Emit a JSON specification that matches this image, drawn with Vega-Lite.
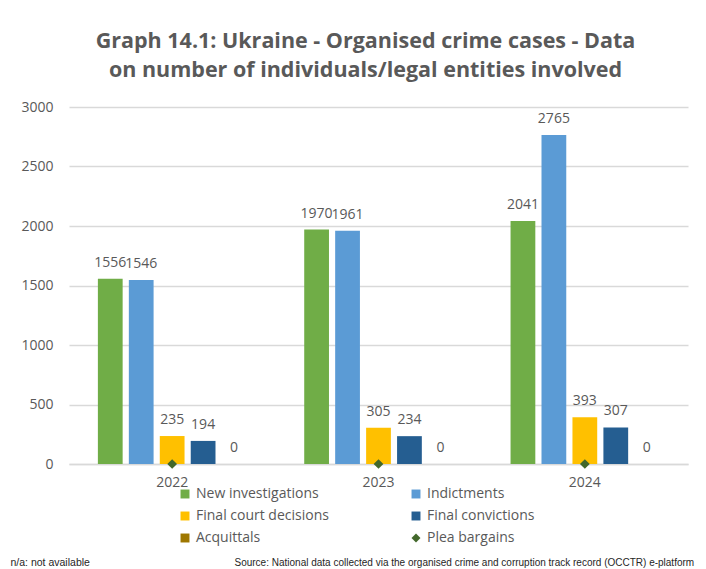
{
  "$schema": "https://vega.github.io/schema/vega-lite/v6.json",
  "width": 619,
  "height": 357,
  "autosize": {"type": "none"},
  "padding": {"left": 69, "top": 107, "right": 18, "bottom": 105},
  "background": "white",
  "config": {"view": {"stroke": null}},
  "title": {
    "text": ["Graph 14.1: Ukraine - Organised crime cases - Data", "on number of individuals/legal entities involved"],
    "anchor": "middle",
    "frame": "group",
    "dx": -13,
    "offset": 19,
    "font": "Open Sans",
    "fontSize": 21.5,
    "fontWeight": "bold",
    "color": "#595959",
    "lineHeight": 29
  },
  "data": {
    "values": [
      {"year": "2022", "series": "New investigations", "value": 1556},
      {"year": "2022", "series": "Indictments", "value": 1546},
      {"year": "2022", "series": "Final court decisions", "value": 235},
      {"year": "2022", "series": "Final convictions", "value": 194},
      {"year": "2022", "series": "Acquittals", "value": 0},
      {"year": "2022", "series": "Plea bargains", "value": 0},
      {"year": "2023", "series": "New investigations", "value": 1970},
      {"year": "2023", "series": "Indictments", "value": 1961},
      {"year": "2023", "series": "Final court decisions", "value": 305},
      {"year": "2023", "series": "Final convictions", "value": 234},
      {"year": "2023", "series": "Acquittals", "value": 0},
      {"year": "2023", "series": "Plea bargains", "value": 0},
      {"year": "2024", "series": "New investigations", "value": 2041},
      {"year": "2024", "series": "Indictments", "value": 2765},
      {"year": "2024", "series": "Final court decisions", "value": 393},
      {"year": "2024", "series": "Final convictions", "value": 307},
      {"year": "2024", "series": "Acquittals", "value": 0},
      {"year": "2024", "series": "Plea bargains", "value": 0}
    ]
  },
  "encoding": {
    "x": {
      "field": "year",
      "type": "nominal",
      "scale": {"paddingInner": 0.25, "paddingOuter": 0.125},
      "axis": {
        "labelAngle": 0,
        "labelFont": "Open Sans",
        "labelFontSize": 14,
        "labelColor": "#595959",
        "labelPadding": 11,
        "ticks": false,
        "domainColor": "#d9d9d9",
        "domainWidth": 1.5,
        "title": "Source: National data collected via the organised crime and corruption track record (OCCTR) e-platform",
        "titleFont": "Liberation Sans",
        "titleFontSize": 10,
        "titleFontWeight": "normal",
        "titleColor": "#262626",
        "titleAnchor": "start",
        "titleAlign": "left",
        "titleBaseline": "alphabetic",
        "titleX": 165,
        "titleY": 101
      }
    },
    "y": {
      "field": "value",
      "type": "quantitative",
      "scale": {"domain": [0, 3000]},
      "axis": {
        "values": [0, 500, 1000, 1500, 2000, 2500, 3000],
        "format": "d",
        "labelFont": "Open Sans",
        "labelFontSize": 14,
        "labelColor": "#595959",
        "labelPadding": 16,
        "ticks": false,
        "domain": false,
        "gridColor": "#d9d9d9",
        "gridWidth": 1.5,
        "title": "n/a: not available",
        "titleAngle": 0,
        "titleFont": "Liberation Sans",
        "titleFontSize": 10.5,
        "titleFontWeight": "normal",
        "titleColor": "#262626",
        "titleAlign": "left",
        "titleBaseline": "alphabetic",
        "titleX": -59,
        "titleY": 458
      }
    }
  },
  "layer": [
    {
      "transform": [{"filter": "datum.series !== 'Plea bargains'"}],
      "mark": {"type": "bar"},
      "encoding": {
        "xOffset": {
          "field": "series",
          "type": "nominal",
          "sort": ["New investigations", "Indictments", "Final court decisions", "Final convictions", "Acquittals"],
          "scale": {"paddingInner": 0.2, "paddingOuter": 0.1}
        },
        "color": {
          "field": "series",
          "type": "nominal",
          "scale": {
            "domain": ["New investigations", "Indictments", "Final court decisions", "Final convictions", "Acquittals", "Plea bargains"],
            "range": ["#70AD47", "#5B9BD5", "#FFC000", "#255E91", "#9E7700", "#43682B"]
          },
          "legend": {
            "orient": "none",
            "legendX": 109,
            "legendY": 380,
            "direction": "horizontal",
            "columns": 2,
            "title": null,
            "labelFont": "Open Sans",
            "labelFontSize": 14,
            "labelColor": "#595959",
            "labelOffset": 4,
            "symbolSize": 80,
            "symbolStrokeWidth": 0,
            "rowPadding": 8,
            "columnPadding": 80,
            "encode": {
              "symbols": {
                "update": {
                  "shape": {"signal": "datum.value === 'Plea bargains' ? 'diamond' : 'square'"}
                }
              }
            }
          }
        }
      }
    },
    {
      "transform": [{"filter": "datum.series !== 'Plea bargains'"}],
      "mark": {"type": "text", "dy": -16, "font": "Open Sans", "fontSize": 14, "color": "#595959", "baseline": "middle"},
      "encoding": {
        "xOffset": {
          "field": "series",
          "type": "nominal",
          "sort": ["New investigations", "Indictments", "Final court decisions", "Final convictions", "Acquittals"],
          "scale": {"paddingInner": 0.2, "paddingOuter": 0.1}
        },
        "text": {"field": "value", "type": "quantitative"}
      }
    },
    {
      "transform": [{"filter": "datum.series === 'Plea bargains'"}],
      "mark": {"type": "point", "shape": "diamond", "filled": true, "size": 95, "opacity": 1},
      "encoding": {
        "color": {"field": "series", "type": "nominal"}
      }
    }
  ]
}
